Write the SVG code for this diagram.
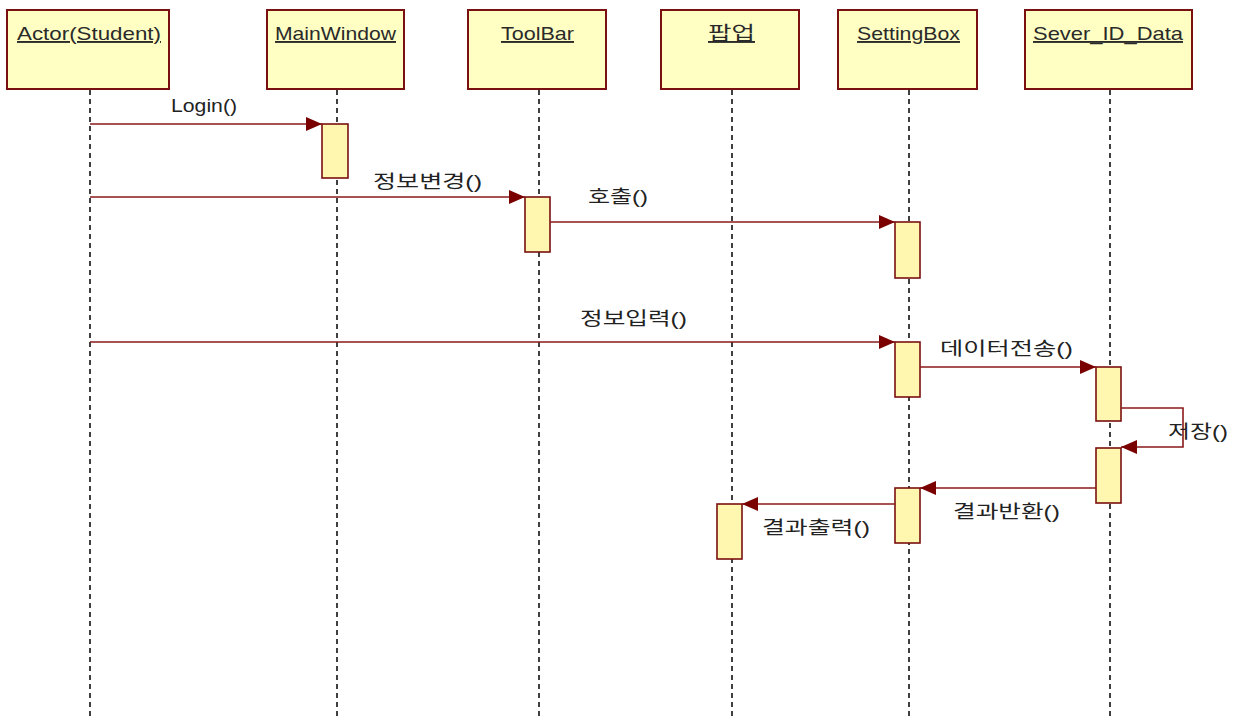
<svg xmlns="http://www.w3.org/2000/svg" width="1239" height="717" viewBox="0 0 1239 717">
<defs>
<style>
.obj{fill:#FFFFC4;stroke:#7A1010;stroke-width:2}
.act{fill:#FFF7B0;stroke:#7A1010;stroke-width:1.6}
.life{stroke:#111;stroke-width:1.6;stroke-dasharray:5 4;fill:none}
.msg{stroke:#8B1A1A;stroke-width:1.6;fill:none}
.title{font-family:"Liberation Sans","Noto Sans CJK KR",sans-serif;font-size:19px;fill:#2a2a2a;text-decoration:underline}
.lbl{font-family:"Liberation Sans","Noto Sans CJK KR",sans-serif;font-size:18px;fill:#222}
</style>
<marker id="ah" viewBox="0 0 16 14" refX="16" refY="7" markerWidth="16" markerHeight="14" markerUnits="userSpaceOnUse" orient="auto">
<path d="M0,0 L16,7 L0,14 Z" fill="#7A0000"/>
</marker>
</defs>
<rect width="1239" height="717" fill="#fff"/>
<g id="lifelines">
<line class="life" x1="90" y1="90" x2="90" y2="717"/>
<line class="life" x1="337" y1="90" x2="337" y2="717"/>
<line class="life" x1="539" y1="90" x2="539" y2="717"/>
<line class="life" x1="732" y1="90" x2="732" y2="717"/>
<line class="life" x1="909" y1="90" x2="909" y2="717"/>
<line class="life" x1="1110" y1="90" x2="1110" y2="717"/>
</g>
<g id="actor"><rect class="obj" x="7" y="10" width="162" height="79"/><text class="title" x="17" y="40" textLength="144" lengthAdjust="spacingAndGlyphs">Actor(Student)</text></g>
<g id="mainwindow"><rect class="obj" x="267" y="10" width="137" height="79"/><text class="title" x="275" y="40" textLength="121" lengthAdjust="spacingAndGlyphs">MainWindow</text></g>
<g id="toolbar"><rect class="obj" x="468" y="10" width="138" height="79"/><text class="title" x="501" y="40" textLength="73" lengthAdjust="spacingAndGlyphs">ToolBar</text></g>
<g id="popup"><rect class="obj" x="661" y="10" width="138" height="79"/><text class="title" x="708" y="40" textLength="47" lengthAdjust="spacingAndGlyphs">팝업</text></g>
<g id="settingbox"><rect class="obj" x="838" y="10" width="139" height="79"/><text class="title" x="857" y="40" textLength="103" lengthAdjust="spacingAndGlyphs">SettingBox</text></g>
<g id="severdata"><rect class="obj" x="1025" y="10" width="167" height="79"/><text class="title" x="1033" y="40" textLength="150" lengthAdjust="spacingAndGlyphs">Sever_ID_Data</text></g>
<g id="activations">
<rect class="act" x="322" y="124" width="26" height="54"/>
<rect class="act" x="525" y="197" width="25" height="55"/>
<rect class="act" x="895" y="222" width="25" height="56"/>
<rect class="act" x="895" y="342" width="25" height="55"/>
<rect class="act" x="1096" y="367" width="25" height="54"/>
<rect class="act" x="1096" y="448" width="25" height="55"/>
<rect class="act" x="895" y="488" width="25" height="55"/>
<rect class="act" x="717" y="504" width="25" height="55"/>
</g>
<g id="connectors">
<line class="msg" x1="90" y1="124" x2="322" y2="124" marker-end="url(#ah)"/>
<line class="msg" x1="90" y1="197" x2="525" y2="197" marker-end="url(#ah)"/>
<line class="msg" x1="550" y1="222" x2="895" y2="222" marker-end="url(#ah)"/>
<line class="msg" x1="90" y1="342" x2="895" y2="342" marker-end="url(#ah)"/>
<line class="msg" x1="920" y1="367" x2="1096" y2="367" marker-end="url(#ah)"/>
<polyline class="msg" points="1121,408 1183,408 1183,447 1121,447" marker-end="url(#ah)"/>
<line class="msg" x1="1096" y1="488" x2="920" y2="488" marker-end="url(#ah)"/>
<line class="msg" x1="895" y1="504" x2="742" y2="504" marker-end="url(#ah)"/>
</g>
<g id="labels">
<text class="lbl" x="171" y="112" textLength="66" lengthAdjust="spacingAndGlyphs">Login()</text>
<text class="lbl" x="373" y="188" textLength="109" lengthAdjust="spacingAndGlyphs">정보변경()</text>
<text class="lbl" x="588" y="203" textLength="60" lengthAdjust="spacingAndGlyphs">호출()</text>
<text class="lbl" x="580" y="325" textLength="107" lengthAdjust="spacingAndGlyphs">정보입력()</text>
<text class="lbl" x="940" y="355" textLength="133" lengthAdjust="spacingAndGlyphs">데이터전송()</text>
<text class="lbl" x="1168" y="438" textLength="60" lengthAdjust="spacingAndGlyphs">저장()</text>
<text class="lbl" x="953" y="518" textLength="107" lengthAdjust="spacingAndGlyphs">결과반환()</text>
<text class="lbl" x="762" y="534" textLength="108" lengthAdjust="spacingAndGlyphs">결과출력()</text>
</g>
</svg>
